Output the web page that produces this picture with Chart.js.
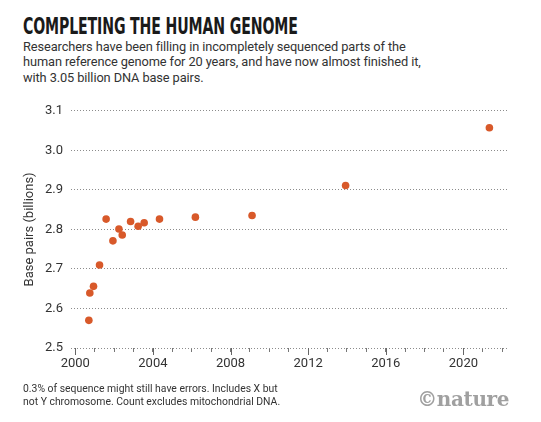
<!DOCTYPE html>
<html>
<head>
<meta charset="utf-8">
<script src="https://cdn.jsdelivr.net/npm/chart.js@4"></script>
<style>
  body { margin: 0; background: #fff; width: 541px; height: 422px; overflow: hidden; position: relative; font-family: "Roboto", "Liberation Sans", sans-serif; color: #333; }
  #title { position: absolute; left: 23px; top: 13px; font-family: "Liberation Sans Narrow", "DejaVu Sans Condensed", sans-serif; font-weight: bold; font-size: 23px; color: #1a1a1a; white-space: nowrap; transform-origin: 0 0; letter-spacing: -0.2px; }
  #sub { position: absolute; left: 23px; top: 39px; font-size: 12.8px; line-height: 15.3px; letter-spacing: -0.1px; color: #333; white-space: nowrap; }
  #wrap { position: absolute; left: 0; top: 95px; width: 541px; height: 290px; }
  #note { position: absolute; left: 23px; top: 382px; font-size: 10.4px; line-height: 13px; color: #333; white-space: nowrap; }
  #logo { position: absolute; right: 32px; top: 387px; font-family: "DejaVu Serif", "Liberation Serif", serif; font-weight: bold; font-size: 20px; color: #a0a0a0; letter-spacing: -0.4px; }
</style>
</head>
<body>
<div id="title">COMPLETING THE HUMAN GENOME</div>
<div id="sub">Researchers have been filling in incompletely sequenced parts of the<br>human reference genome for 20 years, and have now almost finished it,<br>with 3.05 billion DNA base pairs.</div>
<div id="wrap"><canvas id="chart"></canvas></div>
<div id="note">0.3% of sequence might still have errors. Includes X but<br>not Y chromosome. Count excludes mitochondrial DNA.</div>
<div id="logo">©nature</div>
<script>
const years = [2000.70, 2000.75, 2000.94, 2001.25, 2001.59, 2001.94, 2002.25, 2002.42,
               2002.85, 2003.24, 2003.55, 2004.34, 2006.19, 2009.11, 2013.93, 2021.34];
const basePairs = [2.570, 2.639, 2.656, 2.710, 2.826, 2.771, 2.801, 2.786,
                   2.820, 2.808, 2.817, 2.826, 2.831, 2.835, 2.911, 3.057];
const yearLabels = [2000, 2004, 2008, 2012, 2016, 2020];

const title = document.getElementById('title');
const tw = title.offsetWidth;
title.style.transform = 'scaleX(' + (275 / tw) + ')';

const dotColor = '#d8592a';
const gridColor = '#8c8c8c';

// longer ticks under the labelled years
const majorTicks = {
    id: 'majorTicks',
    afterDraw(chart) {
        const x = chart.scales.x;
        const c = chart.ctx;
        c.save();
        c.strokeStyle = '#666';
        c.lineWidth = 1;
        yearLabels.forEach((yr) => {
            const px = Math.round(x.getPixelForValue(yr)) + 0.5;
            c.beginPath();
            c.moveTo(px, x.top);
            c.lineTo(px, x.top + 7);
            c.stroke();
        });
        c.restore();
    }
};

const ctx = document.getElementById('chart');
new Chart(ctx, {
    type: 'scatter',
    data: {
        datasets: [{
            data: years.map((yr, i) => ({x: yr, y: basePairs[i]})),
            backgroundColor: dotColor,
            borderColor: dotColor,
            borderWidth: 0,
            pointRadius: 3.8,
        }]
    },
    options: {
        responsive: true,
        maintainAspectRatio: false,
        animation: false,
        layout: { padding: { top: 15, right: 32, left: 0, bottom: 0 } },
        plugins: { legend: { display: false }, tooltip: { enabled: false } },
        scales: {
            x: {
                type: 'linear',
                min: 1999.78,
                max: 2022.35,
                afterFit: (s) => { s.height = 37; },
                border: { display: false },
                grid: { drawOnChartArea: false, drawTicks: true, tickLength: 4, color: '#777' },
                ticks: {
                    stepSize: 1,
                    includeBounds: false,
                    autoSkip: false,
                    maxRotation: 0,
                    padding: 4,
                    color: '#333',
                    font: { family: 'Roboto', size: 13 },
                    callback: (v) => (yearLabels.includes(v) ? String(v) : '')
                }
            },
            y: {
                min: 2.5,
                max: 3.1,
                afterFit: (s) => { s.width = 71; },
                border: { display: false, dash: [1, 2] },
                grid: { drawTicks: false, color: gridColor, lineWidth: 1 },
                ticks: {
                    stepSize: 0.1,
                    padding: 8,
                    color: '#333',
                    font: { family: 'Roboto', size: 13 },
                    callback: (v) => v.toFixed(1)
                },
                title: {
                    display: true,
                    text: 'Base pairs (billions)',
                    color: '#333',
                    font: { family: 'Roboto', size: 13 },
                    padding: { top: 22, bottom: 0 }
                }
            }
        }
    },
    plugins: [majorTicks]
});
</script>
</body>
</html>
